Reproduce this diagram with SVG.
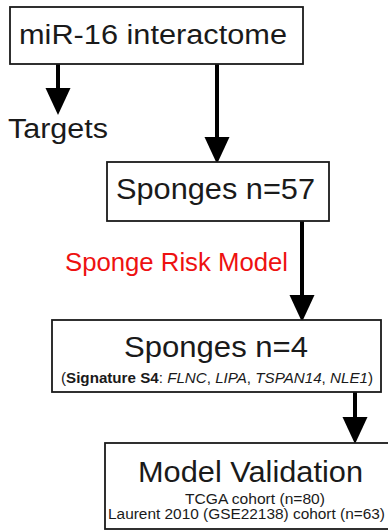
<svg xmlns="http://www.w3.org/2000/svg" width="388" height="532" viewBox="0 0 388 532">
<style>
  .box { fill: #ffffff; stroke: #1a1a1a; stroke-width: 1.8; }
  .t { font-family: "Liberation Sans", Arial, sans-serif; fill: #1a1a1a; }
  .big { font-size: 30px; }
  .small { font-size: 14px; }
  .red { fill: #ee1111; }
  .conn { stroke: #000000; stroke-width: 4; fill: none; marker-end: url(#ah); }
</style>
<defs>
  <marker id="ah" markerUnits="userSpaceOnUse" markerWidth="28" markerHeight="26" refX="18" refY="12.5" orient="auto">
    <path d="M0,0 L27,12.5 L0,25 Z" fill="#000000"/>
  </marker>
</defs>
<rect width="388" height="532" fill="#ffffff"/>
<g id="connectors">
  <line class="conn" x1="58" y1="64" x2="58" y2="106"/>
  <line class="conn" x1="217" y1="64" x2="217" y2="155"/>
  <line class="conn" x1="302" y1="221" x2="302" y2="313"/>
  <line class="conn" x1="355" y1="392" x2="355" y2="435"/>
</g>
<g id="n1">
  <rect class="box" x="10" y="7" width="293" height="57"/>
  <text class="t" x="153" y="44" font-size="27" text-anchor="middle" textLength="268" lengthAdjust="spacingAndGlyphs">miR-16 interactome</text>
</g>
<g id="targets">
  <text class="t" x="8" y="138" font-size="27" textLength="100" lengthAdjust="spacingAndGlyphs">Targets</text>
</g>
<g id="n2">
  <rect class="box" x="107" y="162" width="222" height="59"/>
  <text class="t big" x="215.5" y="199" text-anchor="middle" textLength="199" lengthAdjust="spacingAndGlyphs">Sponges n=57</text>
</g>
<g id="label-risk">
  <text class="t red" x="65" y="271" font-size="25.5" textLength="223" lengthAdjust="spacingAndGlyphs">Sponge Risk Model</text>
</g>
<g id="n3">
  <rect class="box" x="52" y="320" width="329" height="72"/>
  <text class="t big" x="216" y="357" text-anchor="middle" textLength="184" lengthAdjust="spacingAndGlyphs">Sponges n=4</text>
  <text class="t" x="217" y="383" font-size="15" text-anchor="middle" textLength="312" lengthAdjust="spacingAndGlyphs">(<tspan font-weight="bold">Signature S4</tspan>: <tspan font-style="italic">FLNC</tspan>, <tspan font-style="italic">LIPA</tspan>, <tspan font-style="italic">TSPAN14</tspan>, <tspan font-style="italic">NLE1</tspan>)</text>
</g>
<g id="n4">
  <rect class="box" x="105" y="443" width="290" height="86"/>
  <text class="t big" x="250.5" y="482" text-anchor="middle" textLength="225" lengthAdjust="spacingAndGlyphs">Model Validation</text>
  <text class="t small" x="255" y="504" text-anchor="middle" textLength="140" lengthAdjust="spacingAndGlyphs">TCGA cohort (n=80)</text>
  <text class="t small" x="246.5" y="519" text-anchor="middle" textLength="277" lengthAdjust="spacingAndGlyphs">Laurent 2010 (GSE22138) cohort (n=63)</text>
</g>
</svg>
